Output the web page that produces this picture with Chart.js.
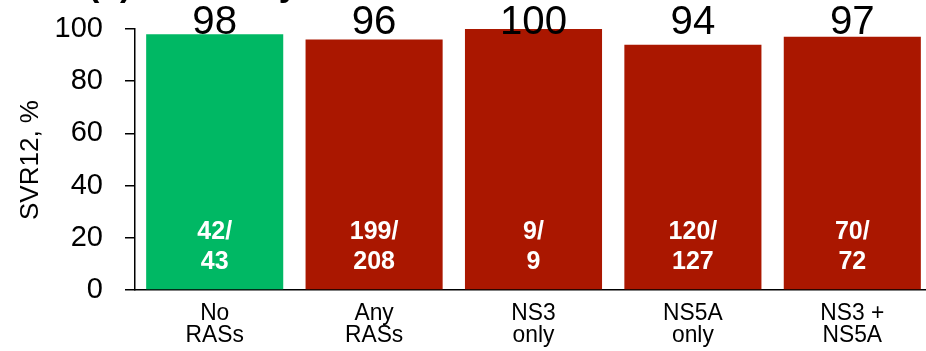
<!DOCTYPE html>
<html>
<head>
<meta charset="utf-8">
<script src="https://cdn.jsdelivr.net/npm/chart.js@4"></script>
<style>
  html, body { margin: 0; padding: 0; background: #fff; overflow: hidden; }
  #wrap { width: 932px; height: 351px; }
</style>
</head>
<body>
<div id="wrap"><canvas id="grab" width="932" height="351"></canvas></div>
<script>
// data
const categories = [["No", "RASs"], ["Any", "RASs"], ["NS3", "only"], ["NS5A", "only"], ["NS3 +", "NS5A"]];
const svr12 = [98, 96, 100, 94, 97];
const responders = ["42/", "199/", "9/", "120/", "70/"];
const totals = ["43", "208", "9", "127", "72"];
const yTicks = [0, 20, 40, 60, 80, 100];
const titleText = "(b) SVR12 by RAS";
const yTitle = "SVR12, %";

const green = "#00b864";
const red = "#aa1700";
const barColors = svr12.map((v, i) => i === 0 ? green : red);

const drawText = (ctx, txt, x, y, font, color, sx) => {
    ctx.save();
    ctx.translate(x, y);
    ctx.scale(sx, 1);
    ctx.font = font;
    ctx.fillStyle = color;
    ctx.textAlign = "center";
    ctx.textBaseline = "middle";
    ctx.fillText(txt, 0, 0);
    ctx.restore();
};

const labels = {
    id: "labels",
    afterDatasetsDraw(chart) {
        const ctx = chart.ctx;
        const bars = chart.getDatasetMeta(0).data;
        bars.forEach((b, i) => {
            drawText(ctx, String(svr12[i]), b.x, 23, "41px 'Liberation Sans', Arial", "#000", 0.98);
            drawText(ctx, responders[i], b.x, 232, "bold 25px 'Liberation Sans', Arial", "#fff", 1);
            drawText(ctx, totals[i], b.x, 262, "bold 25px 'Liberation Sans', Arial", "#fff", 1);
            drawText(ctx, categories[i][0], b.x, 313, "24px 'Liberation Sans', Arial", "#000", 0.95);
            drawText(ctx, categories[i][1], b.x, 335, "24px 'Liberation Sans', Arial", "#000", 0.95);
        });

        // y title, rotated
        ctx.save();
        ctx.translate(31, 160);
        ctx.rotate(-Math.PI / 2);
        ctx.font = "26px 'Liberation Sans', Arial";
        ctx.fillStyle = "#000";
        ctx.textAlign = "center";
        ctx.textBaseline = "middle";
        ctx.fillText(yTitle, 0, 0);
        ctx.restore();

        // panel title, cut off by the top edge
        ctx.save();
        ctx.font = "bold 34px 'Liberation Sans', Arial";
        ctx.fillStyle = "#000";
        ctx.textAlign = "left";
        ctx.textBaseline = "alphabetic";
        ctx.fillText(titleText, 88, -4);
        ctx.restore();
    }
};

const grph = document.querySelector("#grab");

const man = new Chart(grph, {
    type: "bar",
    data: {
        labels: categories,
        datasets: [
            {
                data: svr12,
                backgroundColor: barColors,
                borderWidth: 0,
                barPercentage: 0.86,
                categoryPercentage: 1
            }
        ]
    },
    options: {
        responsive: false,
        animation: false,
        devicePixelRatio: 1,
        layout: { padding: { top: 29, right: 0, left: 0, bottom: 0 } },
        plugins: {
            legend: { display: false },
            tooltip: { enabled: false }
        },
        scales: {
            x: {
                grid: { display: false },
                border: { display: true, color: "#000", width: 1.5 },
                ticks: { display: false },
                afterFit: (s) => { s.height = 61; s.paddingLeft = 0; s.paddingRight = 0; }
            },
            y: {
                min: 0,
                max: 100,
                afterBuildTicks: (s) => { s.ticks = yTicks.map(v => ({ value: v })); },
                grid: {
                    drawOnChartArea: false,
                    drawTicks: true,
                    tickLength: 10,
                    color: "#000",
                    lineWidth: 1.5
                },
                border: { display: true, color: "#000", width: 1.5 },
                ticks: {
                    padding: 22,
                    color: "#000",
                    font: { family: "'Liberation Sans', Arial", size: 29 }
                },
                afterFit: (s) => { s.width = 135; s.paddingTop = 0; s.paddingBottom = 0; }
            }
        }
    },
    plugins: [labels]
});
</script>
</body>
</html>
